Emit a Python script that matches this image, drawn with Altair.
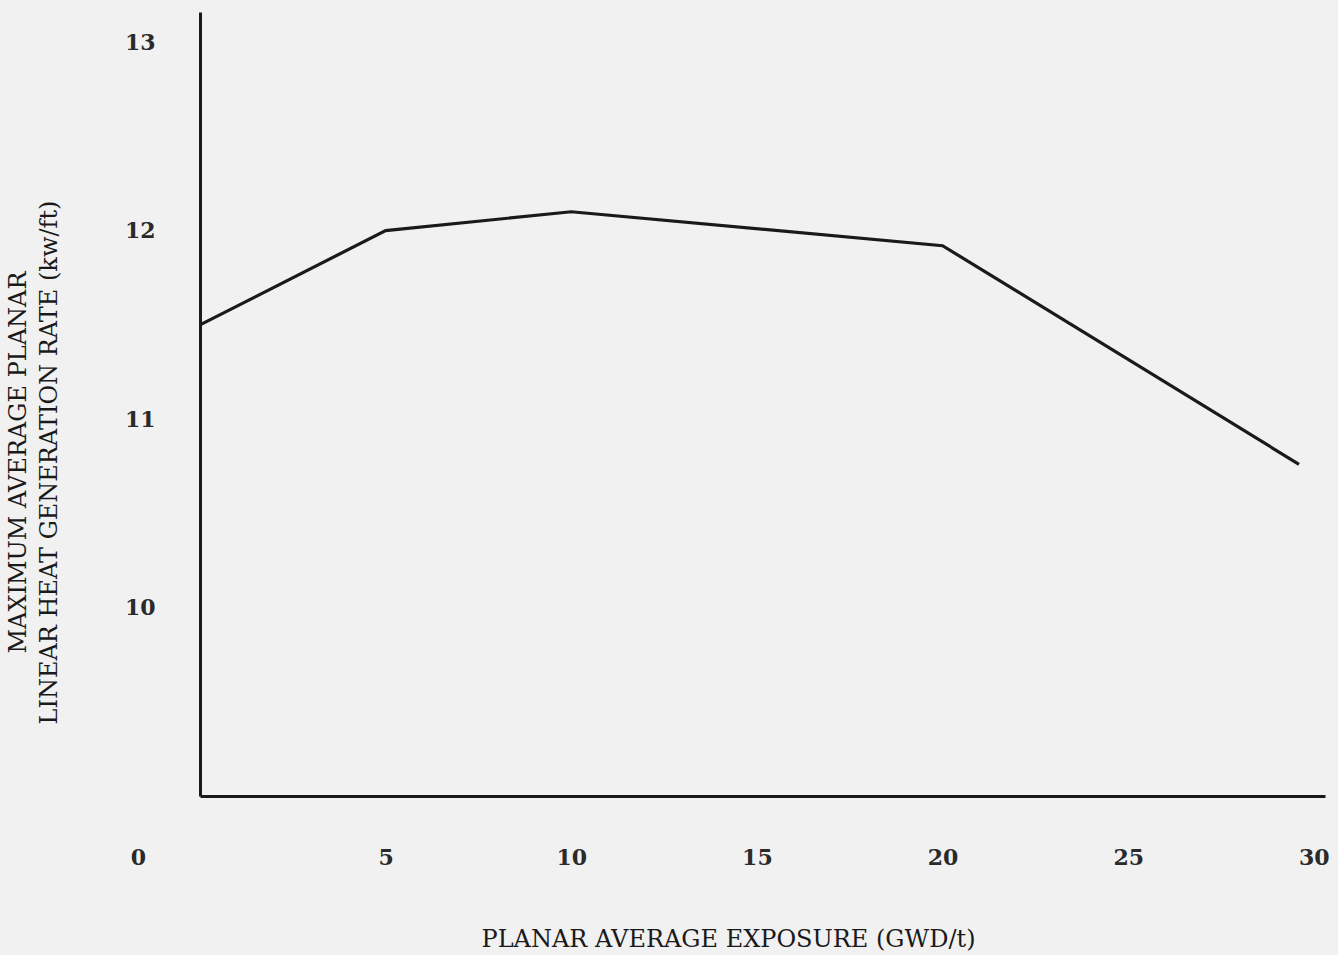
import altair as alt
import pandas as pd

exposure = [0, 5, 10, 20, 29.6]
maplhgr = [11.5, 12.0, 12.1, 11.92, 10.76]
x_ticks = [0, 5, 10, 15, 20, 25, 30]
y_ticks = [10, 11, 12, 13]

df = pd.DataFrame({"exposure": exposure, "maplhgr": maplhgr})

FONT = "DejaVu Serif"
INK = "#1a1a1a"

line = alt.Chart(df).mark_line(color=INK, strokeWidth=3.2).encode(
    x=alt.X(
        "exposure:Q",
        scale=alt.Scale(domain=[0, 30.3], nice=False, zero=False),
        axis=alt.Axis(
            values=x_ticks,
            grid=False,
            ticks=False,
            domainColor=INK,
            domainWidth=3,
            labelFont=FONT,
            labelFontSize=22,
            labelFontWeight="bold",
            labelColor="#2a2a2a",
            labelPadding=51,
            labelBaseline="top",
            labelFlush=False,
            labelOffset={"condition": {"test": "datum.value == 0", "value": -62}, "value": 0},
            title="PLANAR AVERAGE EXPOSURE (GWD/t)",
            titleFont=FONT,
            titleFontSize=24,
            titleFontWeight="normal",
            titleColor=INK,
            titleX=528,
            titleY=150,
            titleAlign="center",
            titleBaseline="alphabetic",
        ),
    ),
    y=alt.Y(
        "maplhgr:Q",
        scale=alt.Scale(domain=[9, 13.16], nice=False, zero=False),
        axis=alt.Axis(
            values=y_ticks,
            grid=False,
            ticks=False,
            domainColor=INK,
            domainWidth=3,
            labelFont=FONT,
            labelFontSize=22,
            labelFontWeight="bold",
            labelColor="#2a2a2a",
            labelPadding=45,
            labelFlush=False,
            title=["MAXIMUM AVERAGE PLANAR", "LINEAR HEAT GENERATION RATE (kw/ft)"],
            titleFont=FONT,
            titleFontSize=24,
            titleFontWeight="normal",
            titleColor=INK,
            titleAngle=270,
            titleX=-175,
            titleY=450,
            titleAlign="center",
            titleBaseline="alphabetic",
            titleLineHeight=31,
        ),
    ),
)

chart = line.properties(
    width=1125,
    height=784,
    autosize=alt.AutoSizeParams(type="none"),
    padding={"left": 200, "top": 12, "right": 13, "bottom": 159},
    background="#f1f1f1",
).configure_view(stroke=None)

chart.save("out.html", embed_options={"renderer": "svg", "actions": False})
